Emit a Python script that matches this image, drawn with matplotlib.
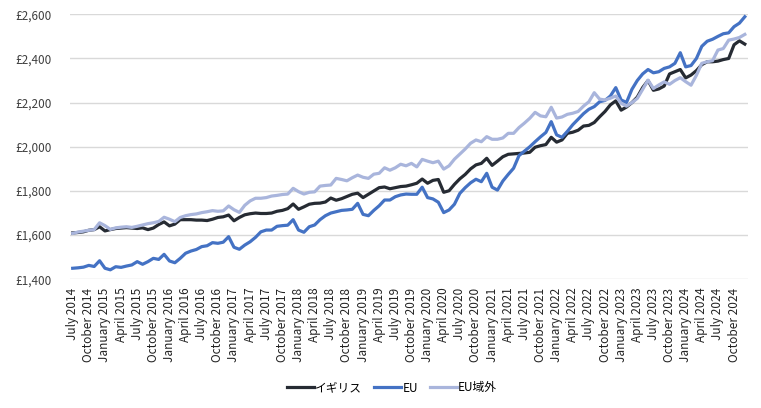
import matplotlib
matplotlib.use("Agg")
import matplotlib.pyplot as plt
import numpy as np

plt.rcParams['font.family'] = ['Noto Sans CJK JP', 'DejaVu Sans']

months = ["January", "February", "March", "April", "May", "June", "July",
          "August", "September", "October", "November", "December"]
# Monthly categories July 2014 .. December 2024
dates = [f"{months[(6 + k) % 12]} {2014 + (6 + k) // 12}" for k in range(126)]

uk = [1610, 1612, 1615, 1622, 1625, 1638, 1619, 1625, 1630, 1632, 1634, 1632,
      1630, 1633, 1625, 1632, 1648, 1660, 1642, 1650, 1670, 1670, 1670, 1668,
      1668, 1666, 1672, 1680, 1683, 1691, 1665, 1680, 1692, 1697, 1700, 1698,
      1698, 1700, 1708, 1712, 1720, 1741, 1717, 1728, 1740, 1744, 1745, 1750,
      1768, 1758, 1765, 1775, 1785, 1790, 1770, 1785, 1800, 1815, 1818, 1810,
      1815, 1820, 1822, 1828, 1835, 1854, 1835, 1848, 1852, 1794, 1801, 1830,
      1855, 1875, 1900, 1918, 1925, 1948, 1916, 1935, 1955, 1966, 1968, 1970,
      1972, 1975, 1998, 2005, 2010, 2043, 2021, 2031, 2061, 2066, 2075, 2094,
      2097, 2110, 2136, 2160, 2190, 2208, 2166, 2180, 2200, 2225, 2268, 2300,
      2256, 2262, 2275, 2330, 2340, 2350, 2312, 2325, 2345, 2372, 2385, 2385,
      2388, 2395, 2400, 2462, 2480, 2465]

eu = [1450, 1452, 1455, 1463, 1458, 1484, 1450, 1443, 1457, 1454, 1460, 1465,
      1480, 1468, 1480, 1495, 1490, 1513, 1483, 1475, 1495, 1518, 1528, 1535,
      1548, 1552, 1566, 1563, 1568, 1593, 1545, 1536, 1555, 1570, 1590, 1615,
      1623, 1623, 1640, 1643, 1645, 1670, 1623, 1613, 1638, 1646, 1670, 1688,
      1700, 1706, 1712, 1714, 1717, 1744, 1694, 1688, 1712, 1733, 1759, 1759,
      1774, 1782, 1786, 1785, 1785, 1817, 1770, 1764, 1749, 1702, 1714, 1740,
      1789, 1815, 1837, 1853, 1842, 1880, 1817, 1804, 1845, 1875, 1903, 1960,
      1980, 2000, 2023, 2045, 2065, 2114, 2054, 2043, 2070, 2100, 2125, 2150,
      2170, 2182, 2204, 2210, 2230, 2268, 2212, 2201, 2260, 2300, 2330, 2350,
      2335, 2340, 2355, 2362, 2378, 2426, 2362, 2368, 2400, 2455, 2478, 2487,
      2500, 2512, 2516, 2544, 2560, 2589]

non_eu = [1608, 1614, 1618, 1622, 1625, 1656, 1643, 1626, 1633, 1636, 1638, 1635,
          1640, 1646, 1652, 1656, 1662, 1681, 1672, 1661, 1680, 1688, 1693, 1696,
          1702, 1706, 1711, 1708, 1710, 1732, 1715, 1703, 1735, 1755, 1767, 1767,
          1770, 1777, 1780, 1784, 1786, 1812, 1797, 1786, 1794, 1796, 1822, 1825,
          1827, 1857, 1852, 1846, 1860, 1872, 1862, 1857, 1876, 1880, 1905, 1894,
          1905, 1921, 1914, 1925, 1909, 1943, 1935, 1928, 1935, 1899, 1914, 1944,
          1967, 1990, 2016, 2031, 2023, 2046, 2034, 2034, 2040, 2061, 2061, 2087,
          2107, 2129, 2156, 2140, 2136, 2179, 2130, 2135, 2147, 2152, 2160, 2184,
          2204, 2245, 2216, 2212, 2220, 2230, 2197, 2184, 2200, 2219, 2260, 2302,
          2264, 2280, 2294, 2283, 2300, 2313, 2295, 2279, 2324, 2378, 2385, 2390,
          2438, 2445, 2483, 2488, 2495, 2509]

series_names = ["イギリス", "EU", "EU域外"]
colors = ["#262b33", "#4472c4", "#a9b5dc"]

fig = plt.figure(figsize=(7.61, 4.08), dpi=100)
ax = fig.add_axes([70 / 761, 1 - 279.3 / 408, 677.5 / 761, (279.3 - 14.3) / 408])

x = np.arange(len(dates))
for vals, name, c in zip([uk, eu, non_eu], series_names, colors):
    ax.plot(x, vals, color=c, lw=2.3, label=name, solid_joinstyle='round')

ax.set_xlim(-0.5, len(dates) - 0.5)
ax.set_ylim(1400, 2600)
ax.set_yticks(np.arange(1400, 2601, 200))
ax.set_yticklabels([f"£{v:,}" for v in range(1400, 2601, 200)], fontsize=8.5, color="#404040")
ax.set_xticks(x[::3])
ax.set_xticklabels(dates[::3], rotation=90, fontsize=8.5, color="#222222")
ax.tick_params(axis='both', length=0)
ax.tick_params(axis='y', pad=13)
ax.tick_params(axis='x', pad=6)
ax.grid(axis='y', color="#d9d9d9", lw=1)
ax.set_axisbelow(True)
for s in ax.spines.values():
    s.set_visible(False)

fig.legend(loc='center', bbox_to_anchor=(392 / 761, 1 - 388 / 408), ncol=3,
           frameon=False, fontsize=8.5, handlelength=2.3, handletextpad=0.1,
           columnspacing=1.0)

fig.savefig("out.png", dpi=100)
